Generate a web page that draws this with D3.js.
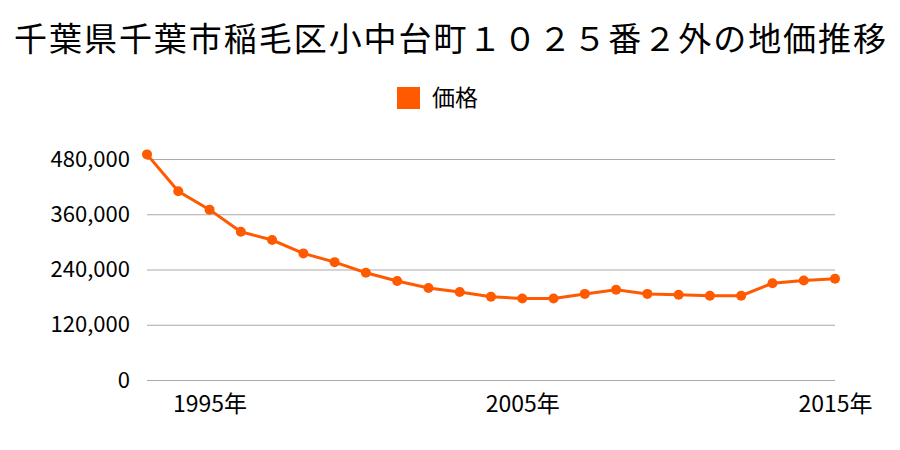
<!DOCTYPE html>
<html><head><meta charset="utf-8">
<script src="https://cdn.jsdelivr.net/npm/d3@7"></script>
<style>body{margin:0;background:#fff;} svg{display:block;}</style>
</head><body>
<svg id="c" width="900" height="450"></svg>
<script>
const title = "千葉県千葉市稲毛区小中台町１０２５番２外の地価推移";
const seriesName = "価格";
const years = [1993,1994,1995,1996,1997,1998,1999,2000,2001,2002,2003,2004,2005,2006,2007,2008,2009,2010,2011,2012,2013,2014,2015];
const prices = [490000,410000,370000,322000,304000,275000,256000,233000,215000,200000,191000,181000,177000,177000,187000,196000,187000,185000,183000,183000,210000,216000,220000];
const yTicks = [0,120000,240000,360000,480000];
const xTicks = [1995,2005,2015];
const color = "#ff5a00";
const font = "'Noto Sans CJK JP', sans-serif";

const svg = d3.select("#c");
const x = d3.scaleLinear().domain([1993,2015]).range([147,835]);
const y = d3.scaleLinear().domain([0,480000]).range([380,159]);

svg.append("text").attr("x",14).attr("y",51)
  .attr("font-family",font).attr("font-size",33).attr("fill","#000")
  .attr("textLength",872).attr("lengthAdjust","spacing").text(title);

svg.append("rect").attr("x",397).attr("y",87).attr("width",23).attr("height",22).attr("fill",color);
svg.append("text").attr("x",432).attr("y",106).attr("font-family",font).attr("font-size",23).attr("fill","#000").text(seriesName);

const yAxis = d3.axisLeft(y).tickValues(yTicks).tickSize(-(835-147)).tickPadding(17)
  .tickFormat(d3.format(","));
const gy = svg.append("g").attr("transform","translate(147,0)").call(yAxis);
gy.select(".domain").remove();
gy.selectAll(".tick line").attr("stroke","#aaa").attr("stroke-width",1);
gy.selectAll(".tick text").attr("font-family",font).attr("font-size",22).attr("fill","#000").attr("x",-17);

const xAxis = d3.axisBottom(x).tickValues(xTicks).tickSize(0).tickPadding(16).tickFormat(d=>d+"年");
const gx = svg.append("g").attr("transform","translate(0,380)").call(xAxis);
gx.select(".domain").remove();
gx.selectAll(".tick text").attr("font-family",font).attr("font-size",23).attr("fill","#000");

const data = years.map((yr,i)=>({yr, v:prices[i]}));
svg.append("path").datum(data).attr("fill","none").attr("stroke",color).attr("stroke-width",3)
  .attr("d", d3.line().x(d=>x(d.yr)).y(d=>y(d.v)));
svg.selectAll("circle.pt").data(data).enter().append("circle").attr("class","pt")
  .attr("cx",d=>x(d.yr)).attr("cy",d=>y(d.v)).attr("r",5).attr("fill",color);
</script>
</body></html>
